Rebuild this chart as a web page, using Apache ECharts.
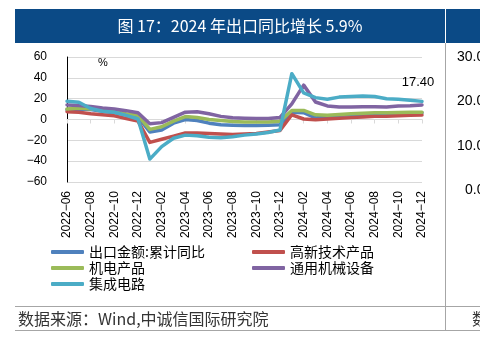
<!DOCTYPE html>
<html>
<head>
<meta charset="utf-8">
<script src="https://cdn.jsdelivr.net/npm/echarts@6/dist/echarts.min.js"></script>
<style>
html,body{margin:0;padding:0;background:#fff;}
#c{width:480px;height:341px;}
</style>
</head>
<body>
<div id="c"></div>
<script>
// ---- data ----
var months = ['2022-06','2022-07','2022-08','2022-09','2022-10','2022-11','2022-12',
  '2023-01','2023-02','2023-03','2023-04','2023-05','2023-06','2023-07','2023-08','2023-09','2023-10','2023-11','2023-12',
  '2024-01','2024-02','2024-03','2024-04','2024-05','2024-06','2024-07','2024-08','2024-09','2024-10','2024-11','2024-12'];
var exportCum = [9.5, 10, 9.5, 8, 6.5, 4.5, 2.5, -12, -10, -3.5, 0, -1, -3.5, -5, -5.5, -5.8, -5.8, -5.5, -5,
  7, 6.5, 1.5, 3, 4, 4.5, 5, 5.5, 5.5, 6, 6.3, 6.5];
var hiTech = [7.5, 7, 5.5, 4.5, 3.5, 1, -1.5, -22, -19, -16, -13, -13, -13.5, -14, -14.5, -14, -13.5, -12, -10.5,
  4.5, 0.5, -0.3, 0.5, 1.2, 1.8, 2.4, 3, 3.2, 3.7, 4, 4.3];
var mechElec = [10, 11, 10, 9, 7.5, 5.5, 4, -9.5, -7, -1.5, 2.8, 2, 0, -1, -2, -2.3, -2.3, -2.3, -1.6,
  8.7, 8.7, 4.5, 4, 4.8, 5.5, 6, 6.5, 6.5, 6.8, 7, 7];
var machinery = [14, 13.5, 12.5, 11, 10, 8.5, 6.5, -4, -3, 2, 7, 7.5, 5.5, 3, 1.6, 1.2, 1, 1, 2,
  15, 33, 16.8, 13, 12, 12, 12.3, 12.3, 12, 13, 13.3, 14];
var chips = [17.5, 16.5, 10.5, 8, 7, 4, 0.5, -38, -26, -18, -15, -15.5, -17, -17.5, -16.5, -15, -14, -12.5, -10,
  44, 25.5, 21, 19.5, 21.5, 22, 22.5, 22, 20, 19.5, 18.5, 17.4];
var seriesNames = ['出口金额:累计同比','高新技术产品','机电产品','通用机械设备','集成电路'];
var seriesColors = ['#4F81BD','#C0504D','#9BBB59','#8064A2','#4BACC6'];
var yTicks = [-60, -40, -20, 0, 20, 40, 60];
var rightTicks = ['30.0','20.0','10.0','0.0'];
var titleText = '图 17：2024 年出口同比增长 5.9%';
var sourceText = '数据来源：Wind,中诚信国际研究院';

var cjk = '"Noto Sans CJK SC", "Noto Sans", sans-serif';
var latin = '"Liberation Sans", Arial, sans-serif';

var allData = [exportCum, hiTech, mechElec, machinery, chips];
var series = allData.map(function (arr, k) {
  var data = arr.map(function (v, i) {
    if (k === 4 && i === arr.length - 1) {
      return {
        value: v,
        label: {
          show: true, position: 'top', distance: 12, offset: [-4, 0],
          formatter: function (p) { return Number(p.value).toFixed(2); },
          fontFamily: latin, fontSize: 13, color: '#000'
        }
      };
    }
    return v;
  });
  return {
    name: seriesNames[k], type: 'line', data: data, xAxisIndex: 0,
    symbol: 'circle', symbolSize: 0, showSymbol: true, smooth: false,
    label: { show: false },
    lineStyle: { width: 3.5, color: seriesColors[k], cap: 'round', join: 'round' },
    itemStyle: { color: seriesColors[k] }
  };
});

var chart = echarts.init(document.getElementById('c'), null, { renderer: 'canvas' });
var legendCommon = {
  orient: 'vertical', itemWidth: 33, itemHeight: 4, itemGap: 2, icon: 'roundRect',
  textStyle: { fontFamily: cjk, fontSize: 14, color: '#000' }, padding: 0
};
chart.setOption({
  animation: false,
  backgroundColor: '#fff',
  grid: { left: 67, right: 58, top: 57, bottom: 159 },
  xAxis: [{
    type: 'category', data: months, boundaryGap: false,
    axisLine: { show: false, onZero: false }, axisTick: { show: false },
    axisLabel: {
      interval: 1, rotate: 90, margin: 9, fontFamily: latin, fontSize: 12, color: '#000',
      padding: [6, 0, 0, 0],
      formatter: function (v) { return v.replace('-', '\u2212'); }
    },
    splitLine: { show: false }
  }, {
    type: 'category', data: months, boundaryGap: false, position: 'bottom',
    axisLine: { show: true, onZero: true, lineStyle: { color: '#d9d9d9', width: 1 } },
    axisTick: { show: true, interval: 1, length: 4, lineStyle: { color: '#d9d9d9' } },
    axisLabel: { show: false }, splitLine: { show: false }
  }],
  yAxis: {
    type: 'value', min: yTicks[0], max: yTicks[yTicks.length - 1], interval: 20,
    axisLine: { show: true, lineStyle: { color: '#000', width: 1 } },
    axisTick: { show: false },
    axisLabel: {
      margin: 20, fontFamily: latin, fontSize: 12, color: '#000',
      formatter: function (v) { return v < 0 ? '\u2212' + Math.abs(v) : String(v); }
    },
    splitLine: { show: true, lineStyle: { color: '#d9d9d9', width: 1 } }
  },
  legend: [
    Object.assign({}, legendCommon, { left: 51, top: 245, data: [seriesNames[0], seriesNames[2], seriesNames[4]] }),
    Object.assign({}, legendCommon, { left: 252, top: 245, data: [seriesNames[1], seriesNames[3]] })
  ],
  series: series,
  graphic: [
    { type: 'rect', shape: { x: 15, y: 9, width: 430, height: 34 }, style: { fill: '#0B4A86' }, silent: true },
    { type: 'rect', shape: { x: 446, y: 9, width: 40, height: 34 }, style: { fill: '#0B4A86' }, silent: true },
    { type: 'text', x: 240, y: 26, style: { text: titleText, fill: '#fff', font: '16px ' + cjk, textAlign: 'center', textVerticalAlign: 'middle' }, silent: true },
    { type: 'line', shape: { x1: 445.5, y1: 43, x2: 445.5, y2: 331 }, style: { stroke: '#a6a6a6', lineWidth: 1 }, silent: true },
    { type: 'line', shape: { x1: 15, y1: 306.5, x2: 480, y2: 306.5 }, style: { stroke: '#a6a6a6', lineWidth: 1 }, silent: true },
    { type: 'line', shape: { x1: 15, y1: 330.5, x2: 480, y2: 330.5 }, style: { stroke: '#a6a6a6', lineWidth: 1 }, silent: true },
    { type: 'text', x: 18, y: 319, style: { text: sourceText, fill: '#333', font: '16px ' + cjk, textVerticalAlign: 'middle' }, silent: true },
    { type: 'text', x: 472, y: 319, style: { text: '数据来源', fill: '#333', font: '16px ' + cjk, textVerticalAlign: 'middle' }, silent: true },
    { type: 'text', x: 98, y: 63, style: { text: '%', fill: '#000', font: '11px ' + latin, textVerticalAlign: 'middle' }, silent: true },
    { type: 'text', x: 457, y: 57, style: { text: rightTicks[0], fill: '#000', font: '14px ' + latin, textVerticalAlign: 'middle' }, silent: true },
    { type: 'text', x: 457, y: 101, style: { text: rightTicks[1], fill: '#000', font: '14px ' + latin, textVerticalAlign: 'middle' }, silent: true },
    { type: 'text', x: 457, y: 146, style: { text: rightTicks[2], fill: '#000', font: '14px ' + latin, textVerticalAlign: 'middle' }, silent: true },
    { type: 'text', x: 465, y: 190, style: { text: rightTicks[3], fill: '#000', font: '14px ' + latin, textVerticalAlign: 'middle' }, silent: true }
  ]
});
</script>
</body>
</html>
